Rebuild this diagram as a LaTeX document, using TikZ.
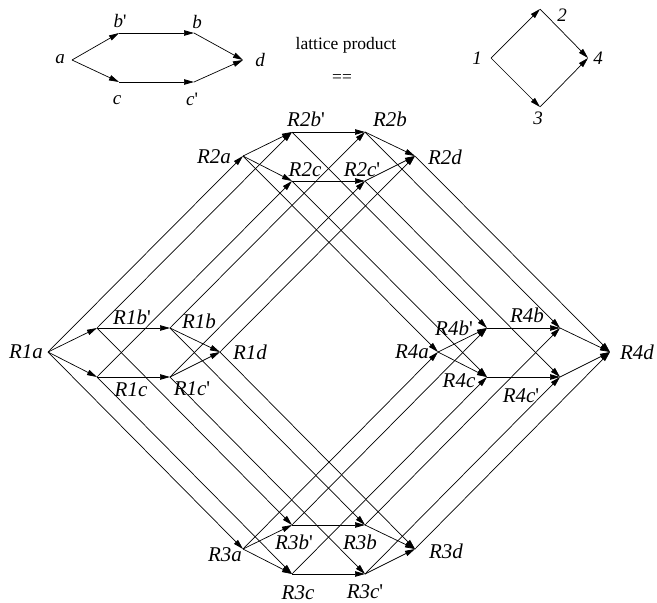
\documentclass[tikz,border=0pt]{standalone}
\usepackage{fontspec}
\setmainfont{Liberation Serif}
\usetikzlibrary{arrows.meta}
\newcommand{\pr}{\textup{\textquotesingle}}
\begin{document}
\begin{tikzpicture}[x=1pt,y=-1pt,
  edge/.style={-{Triangle[length=10pt,width=5.5pt]},line width=0.7pt},
  lab/.style={font=\fontsize{21}{22}\selectfont\itshape,inner sep=0pt},
  slab/.style={font=\fontsize{19}{20}\selectfont\itshape,inner sep=0pt},
  txt/.style={font=\fontsize{17.5}{20}\selectfont,inner sep=0pt}]
\useasboundingbox (0,0) rectangle (657,603);
% small hexagon
\coordinate (a) at (72,60);
\coordinate (bp) at (119,33);
\coordinate (b) at (194,33);
\coordinate (d) at (243,60);
\coordinate (c) at (119,82);
\coordinate (cp) at (194,82);
\draw[edge] (a)--(bp);
\draw[edge] (a)--(c);
\draw[edge] (bp)--(b);
\draw[edge] (c)--(cp);
\draw[edge] (b)--(d);
\draw[edge] (cp)--(d);
\node[slab] (la) at (60,59) {a};
\node[slab] (lbp) at (120,21) {b\pr};
\node[slab] (lb) at (197,22) {b};
\node[slab] (ld) at (260,60) {d};
\node[slab] (lc) at (117,100) {c};
\node[slab] (lcp) at (192,99) {c\pr};
% text
\node[txt] (lp) at (346,45) {lattice product};
\node[txt] (eq) at (342,78) {==};
% diamond
\coordinate (p1) at (491,58);
\coordinate (p2) at (540,9);
\coordinate (p4) at (588,58);
\coordinate (p3) at (540,107);
\draw[edge] (p1)--(p2);
\draw[edge] (p1)--(p3);
\draw[edge] (p2)--(p4);
\draw[edge] (p3)--(p4);
\node[slab] (l1) at (477,58) {1};
\node[slab] (l2) at (562,15) {2};
\node[slab] (l4) at (598,58) {4};
\node[slab] (l3) at (538,118) {3};
% product lattice
\foreach \r/\dx/\dy in {1/0/0,2/195/-196,3/195/197,4/390/0}{
  \coordinate (R\r-a) at (48+\dx,352+\dy);
  \coordinate (R\r-bp) at (97+\dx,328+\dy);
  \coordinate (R\r-b) at (170+\dx,328+\dy);
  \coordinate (R\r-d) at (220+\dx,352+\dy);
  \coordinate (R\r-c) at (97+\dx,377+\dy);
  \coordinate (R\r-cp) at (170+\dx,377+\dy);
}
\foreach \r in {1,2,3,4}{
  \draw[edge] (R\r-a)--(R\r-bp);
  \draw[edge] (R\r-a)--(R\r-c);
  \draw[edge] (R\r-bp)--(R\r-b);
  \draw[edge] (R\r-c)--(R\r-cp);
  \draw[edge] (R\r-b)--(R\r-d);
  \draw[edge] (R\r-cp)--(R\r-d);
}
\foreach \x in {a,bp,b,d,c,cp}{
  \draw[edge] (R1-\x)--(R2-\x);
  \draw[edge] (R1-\x)--(R3-\x);
  \draw[edge] (R2-\x)--(R4-\x);
  \draw[edge] (R3-\x)--(R4-\x);
}
% labels
\node[lab] (L1a) at (26,352) {R1a};
\node[lab] (L1bp) at (132,317) {R1b\pr};
\node[lab] (L1b) at (199,321) {R1b};
\node[lab] (L1d) at (250,352) {R1d};
\node[lab] (L1c) at (131,390) {R1c};
\node[lab] (L1cp) at (192,389) {R1c\pr};
\node[lab] (L2a) at (214,157) {R2a};
\node[lab] (L2bp) at (306,119) {R2b\pr};
\node[lab] (L2b) at (390,119) {R2b};
\node[lab] (L2d) at (445,157) {R2d};
\node[lab] (L2c) at (305,170) {R2c};
\node[lab] (L2cp) at (362,170) {R2c\pr};
\node[lab] (L3a) at (225,555) {R3a};
\node[lab] (L3bp) at (294,542) {R3b\pr};
\node[lab] (L3b) at (360,542) {R3b};
\node[lab] (L3d) at (446,551) {R3d};
\node[lab] (L3c) at (298,593) {R3c};
\node[lab] (L3cp) at (365,592) {R3c\pr};
\node[lab] (L4a) at (412,352) {R4a};
\node[lab] (L4bp) at (454,328) {R4b\pr};
\node[lab] (L4b) at (527,315) {R4b};
\node[lab] (L4d) at (637,352) {R4d};
\node[lab] (L4c) at (459,381) {R4c};
\node[lab] (L4cp) at (521,396) {R4c\pr};
\end{tikzpicture}
\end{document}
